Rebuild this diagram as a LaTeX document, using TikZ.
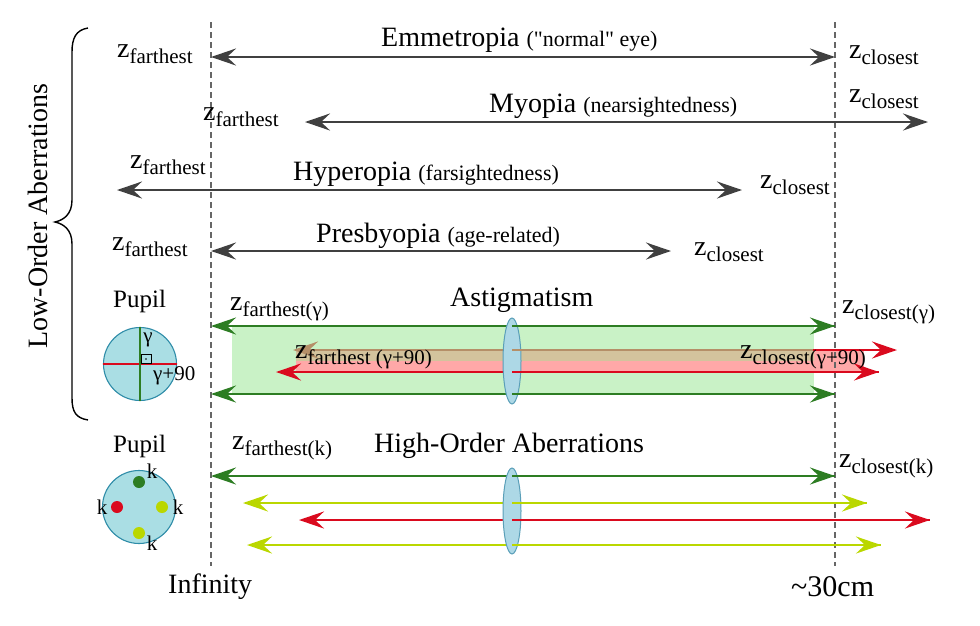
\documentclass[tikz,border=0pt]{standalone}
\usepackage{fontspec}
\setmainfont{Liberation Serif}
\usetikzlibrary{arrows.meta,shapes.geometric}
\definecolor{dgray}{HTML}{404040}
\definecolor{dashgray}{HTML}{666666}
\definecolor{dgreen}{HTML}{2D7D23}
\definecolor{rred}{HTML}{DA0A1E}
\definecolor{ygreen}{HTML}{BAD700}
\definecolor{lgreen}{HTML}{C9F2C6}
\definecolor{pinkb}{HTML}{FFA8A8}
\definecolor{tanb}{HTML}{D3C39D}
\definecolor{brownl}{HTML}{B58F68}
\definecolor{pupilfill}{HTML}{AADEE4}
\definecolor{pupiledge}{HTML}{2E8CA8}
\definecolor{lensfill}{HTML}{ADD8E6}
\definecolor{lensedge}{HTML}{5A9FB8}
\newcommand{\zlab}[1]{{\fontsize{28}{30}\selectfont z}\raisebox{-6pt}{\fontsize{21}{24}\selectfont #1}}
\newcommand{\ttl}{\fontsize{28}{30}\selectfont}
\newcommand{\sml}[1]{{\fontsize{22}{24}\selectfont #1}}
\newcommand{\smk}{\fontsize{21}{24}\selectfont}
\tikzset{
  lbl/.style={inner sep=0pt, anchor=base west},
  ctr/.style={inner sep=0pt, anchor=center},
  arr/.style={line width=2.7pt, {Stealth[length=25pt,width=17pt,inset=9pt]}-{Stealth[length=25pt,width=17pt,inset=9pt]}},
  rarr/.style={line width=2.7pt, -{Stealth[length=25pt,width=17pt,inset=9pt]}},
  larr/.style={line width=2.7pt, {Stealth[length=25pt,width=17pt,inset=9pt]}-},
  seg/.style={line width=2.7pt},
  guide/.style={dashgray, line width=1.6pt, dash pattern=on 6pt off 4pt},
  lens/.style={ellipse, draw=lensedge, fill=lensfill, line width=1pt, minimum width=18pt, minimum height=86pt, inner sep=0pt},
  pupil/.style={circle, draw=pupiledge, fill=pupilfill, line width=1.1pt, minimum size=73pt, inner sep=0pt},
  dot/.style={circle, minimum size=12pt, inner sep=0pt},
}
\begin{document}
\begin{tikzpicture}[x=1pt,y=-1pt]
\useasboundingbox (0,0) rectangle (980,625);

% brace and vertical title
\draw[line width=1.4pt] (88,28) .. controls (76,30) and (72,38) .. (72,52) -- (72,200) .. controls (72,214) and (64,220) .. (55,222) .. controls (64,224) and (72,230) .. (72,244) -- (72,398) .. controls (72,412) and (76,418) .. (88,420);
\node[ctr, rotate=90] (loa) at (38,216) {\ttl Low-Order Aberrations};

% coordinates
\coordinate (gTop) at (211,22);
\coordinate (gBot) at (211,566);
\coordinate (nTop) at (835,22);
\coordinate (nBot) at (835,566);
\coordinate (e1l) at (211,57);  \coordinate (e1r) at (835,57);
\coordinate (m1l) at (305,122); \coordinate (m1r) at (928,122);
\coordinate (h1l) at (117,190); \coordinate (h1r) at (742,190);
\coordinate (p1l) at (211,251); \coordinate (p1r) at (671,251);
\coordinate (a1l) at (211,326); \coordinate (a1r) at (835,326);
\coordinate (a2l) at (211,394); \coordinate (a2r) at (835,394);
\coordinate (b1l) at (293,350); \coordinate (b1m) at (813,350); \coordinate (b1r) at (897,350);
\coordinate (b2l) at (276,372); \coordinate (b2r) at (879,372);
\coordinate (k1l) at (211,476); \coordinate (k1r) at (835,476);
\coordinate (k2l) at (243,503); \coordinate (k2r) at (867,503);
\coordinate (k3l) at (299,520); \coordinate (k3r) at (930,520);
\coordinate (k4l) at (247,545); \coordinate (k4r) at (881,545);

% astigmatism bands
\fill[lgreen] (232,326) rectangle (814,394);
\fill[pinkb] (296,350) rectangle (864,372);
\fill[tanb] (296,350) rectangle (814,361);

% guides
\draw[guide] (gTop) -- (gBot);
\draw[guide] (nTop) -- (nBot);

% low-order arrows
\draw[arr, dgray] (e1l) -- (e1r);
\draw[arr, dgray] (m1l) -- (m1r);
\draw[arr, dgray] (h1l) -- (h1r);
\draw[arr, dgray] (p1l) -- (p1r);

% astigmatism arrows
\draw[arr, dgreen] (a1l) -- (a1r);
\draw[arr, dgreen] (a2l) -- (a2r);
\draw[rarr, rred] (b1m) -- (b1r);
\draw[larr, brownl] (b1l) -- (b1m);
\draw[arr, rred] (b2l) -- (b2r);
\node[lens] (lensA) at (512,361) {};
\draw[seg, dgreen] (lensA.center |- a1l) -- (a1r);
\draw[seg, dgreen] (lensA.center |- a2l) -- (a2r);
\draw[seg, brownl] (lensA.center |- b1l) -- (b1m);
\draw[seg, rred] (lensA.center |- b2l) -- (b2r);

% high-order arrows
\draw[arr, dgreen] (k1l) -- (k1r);
\draw[arr, ygreen] (k2l) -- (k2r);
\draw[arr, rred] (k3l) -- (k3r);
\draw[arr, ygreen] (k4l) -- (k4r);
\node[lens] (lensB) at (512,511) {};
\draw[seg, dgreen] (lensB.center |- k1l) -- (k1r);
\draw[seg, ygreen] (lensB.center |- k2l) -- (k2r);
\draw[seg, rred] (lensB.center |- k3l) -- (k3r);
\draw[seg, ygreen] (lensB.center |- k4l) -- (k4r);

% row labels
\node[lbl] (zf1) at (117,57) {\zlab{farthest}};
\node[lbl] (t1) at (381,46) {\ttl Emmetropia \sml{(\textquotedbl normal\textquotedbl\ eye)}};
\node[lbl] (zc1) at (849,58) {\zlab{closest}};
\node[lbl] (zf2) at (203,120) {\zlab{farthest}};
\node[lbl] (t2) at (489,112) {\ttl Myopia \sml{(nearsightedness)}};
\node[lbl] (zc2) at (849,102) {\zlab{closest}};
\node[lbl] (zf3) at (130,168) {\zlab{farthest}};
\node[lbl] (t3) at (293,180) {\ttl Hyperopia \sml{(farsightedness)}};
\node[lbl] (zc3) at (760,188) {\zlab{closest}};
\node[lbl] (zf4) at (112,250) {\zlab{farthest}};
\node[lbl] (t4) at (316,242) {\ttl Presbyopia \sml{(age-related)}};
\node[lbl] (zc4) at (694,255) {\zlab{closest}};

% astigmatism labels
\node[lbl] (pupA) at (113,307) {\fontsize{25}{27}\selectfont Pupil};
\node[lbl] (zfg) at (230,310) {\zlab{farthest(γ)}};
\node[lbl] (astig) at (450,306) {\ttl Astigmatism};
\node[lbl] (zcg) at (842,313) {\zlab{closest(γ)}};
\node[lbl] (zfg90) at (295,358) {\zlab{farthest (γ+90)}};
\node[lbl] (zcg90) at (740,358) {\zlab{closest(γ+90)}};

% pupil A
\node[pupil] (pupilA) at (140,364) {};
\draw[rred, line width=1.3pt] (pupilA.west) -- (pupilA.east);
\draw[dgreen, line width=1.3pt] (pupilA.north) -- (pupilA.south);
\draw[line width=0.6pt] (141,354) rectangle (151,363.5);
\fill (146,359) circle (0.9pt);
\node[ctr] (gam) at (148,340) {\smk γ};
\node[lbl] (gam90) at (153,380) {\smk γ+90};

% high-order labels
\node[lbl] (pupB) at (113,452) {\fontsize{25}{27}\selectfont Pupil};
\node[lbl] (zfk) at (232,449) {\zlab{farthest(k)}};
\node[lbl] (hoa) at (374,452) {\ttl High-Order Aberrations};
\node[lbl] (zck) at (839,467) {\zlab{closest(k)}};

% pupil B
\node[pupil] (pupilB) at (139,507) {};
\node[dot, fill=dgreen] (d1) at (139,482) {};
\node[dot, fill=rred] (d2) at (117,507) {};
\node[dot, fill=ygreen] (d3) at (162,507) {};
\node[dot, fill=ygreen] (d4) at (139,533) {};
\node[ctr] (k1) at (152,471) {\smk k};
\node[ctr] (k2) at (102,507) {\smk k};
\node[ctr] (k3) at (178,507) {\smk k};
\node[ctr] (k4) at (152,543) {\smk k};

% axis labels
\node[lbl] (inf) at (168,593) {\ttl Infinity};
\node[lbl] (near) at (791,596) {\fontsize{30}{32}\selectfont\textasciitilde30cm};
\end{tikzpicture}
\end{document}
